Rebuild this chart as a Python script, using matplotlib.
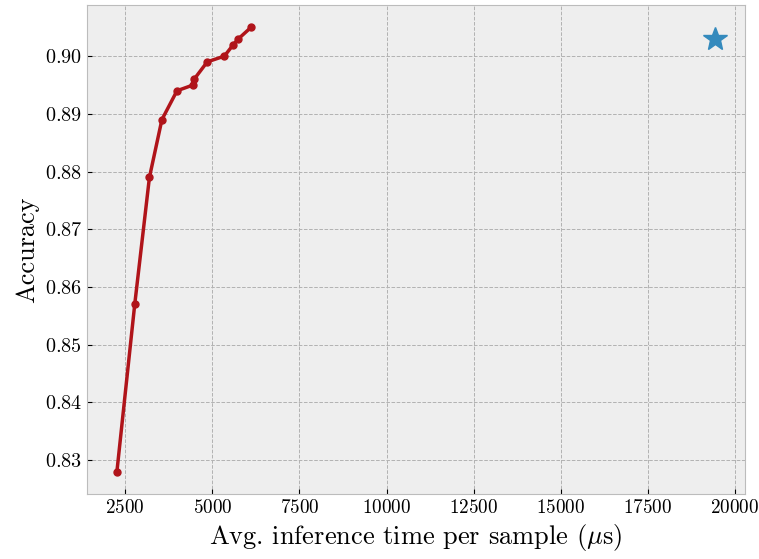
import matplotlib
matplotlib.use("Agg")
import matplotlib.pyplot as plt

# Data
time_us = [2260, 2772, 3194, 3552, 3985, 4448, 4477, 4853, 5344, 5604, 5748, 6113]
accuracy = [0.828, 0.857, 0.879, 0.889, 0.894, 0.895, 0.896, 0.899, 0.900, 0.902, 0.903, 0.905]
star_time = [19430]
star_acc = [0.903]

plt.style.use("bmh")
plt.rcParams["font.family"] = "serif"
plt.rcParams["font.serif"] = ["cmr10"]
plt.rcParams["mathtext.fontset"] = "cm"
plt.rcParams["axes.formatter.use_mathtext"] = True

fig = plt.figure(figsize=(7.59, 5.59), dpi=100)
ax = fig.add_axes([0.1146, 0.1163, 0.867, 0.8747])

ax.plot(time_us, accuracy, color="#B0141A", lw=2.5, marker="o", ms=5)
ax.plot(star_time, star_acc, linestyle="none", marker="*", ms=18, color="#348ABD")

ax.set_xlabel(r"Avg. inference time per sample ($\mu$s)", fontsize=19)
ax.set_ylabel("Accuracy", fontsize=19)
ax.tick_params(axis="y", labelsize=14.5, direction="in")
ax.tick_params(axis="x", labelsize=13.8, direction="in")
ax.grid(True, linestyle="--", color="#b2b2b2", linewidth=0.7)

fig.savefig("out.png", dpi=100)
